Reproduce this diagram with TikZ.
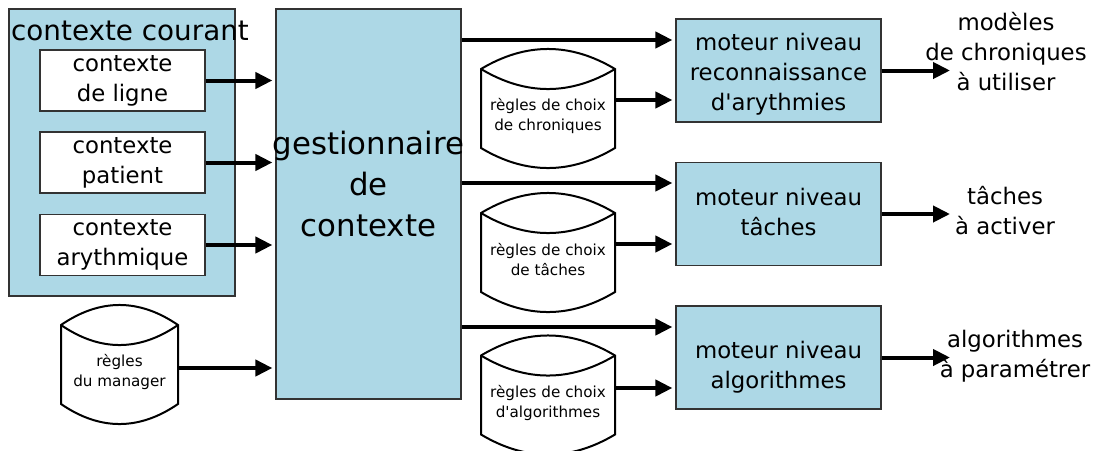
\documentclass[tikz,border=0pt]{standalone}
\usepackage{fontspec}
\setmainfont{DejaVu Sans}
\usetikzlibrary{arrows.meta}
\definecolor{bleuclair}{RGB}{173,216,230}

% cuve de regles : centre x, centre y, demi-largeur
\newcommand{\cuve}[3]{%
  \begin{scope}[shift={(#1,#2)}]
    \draw[cuve] (-#3,-47) .. controls ({-#3/3},-73.7) and ({#3/3},-73.7) .. (#3,-47)
      -- (#3,32) .. controls ({#3/3},58.7) and ({-#3/3},58.7) .. (-#3,32) -- cycle;
    \draw[line width=1pt] (-#3,-47) .. controls ({-#3/3},-20.3) and ({#3/3},-20.3) .. (#3,-47);
  \end{scope}}

\begin{document}
\begin{tikzpicture}[x=0.5pt, y=-0.5pt,
    bloc/.style={draw=black!80, fill=bleuclair, line width=0.6pt, inner sep=0pt},
    ctx/.style={draw=black!80, fill=white, line width=0.6pt, inner sep=0pt,
      minimum width=82.5pt, minimum height=30.5pt, align=center,
      font=\fontsize{11.4}{15}\selectfont},
    moteur/.style={bloc, minimum width=102.5pt, minimum height=51.5pt},
    texte/.style={align=center, font=\fontsize{11.4}{15}\selectfont},
    regle/.style={inner sep=0pt, align=center, font=\fontsize{7.6}{10}\selectfont},
    cuve/.style={draw=black, fill=white, line width=1pt},
    fleche/.style={-{Triangle[length=8.5pt,width=8pt]}, line width=2pt}]

  \useasboundingbox (0,0) rectangle (1095,450);

  % contexte courant
  \node[bloc, minimum width=113pt, minimum height=143.5pt] (courant) at (122,152.5) {};
  \node[font=\fontsize{13.9}{17}\selectfont] (titre) at (130,31) {contexte courant};
  \node[ctx] (ligne) at (122.5,80.5) {contexte\\de ligne};
  \node[ctx] (patient) at (122.5,162.5) {contexte\\patient};
  \node[ctx] (arythmie) at (122.5,245) {contexte\\arythmique};

  % gestionnaire
  \node[bloc, minimum width=92.5pt, minimum height=195pt] (gestion) at (368.5,204) {};
  \node[align=center, font=\fontsize{15.4}{20.5}\selectfont] (gestiontxt) at (368.5,184)
    {gestionnaire\\de\\contexte};

  % regles
  \cuve{119.5}{372}{58.5}
  \node[regle, minimum width=58.5pt] (manager) at (119.5,372) {règles\\du manager};
  \cuve{548}{116}{67}
  \node[regle, minimum width=67pt] (rchron) at (548,116) {règles de choix\\de chroniques};
  \cuve{548}{260}{67}
  \node[regle, minimum width=67pt] (rtach) at (548,260) {règles de choix\\de tâches};
  \cuve{548}{402.5}{67}
  \node[regle, minimum width=67pt] (ralgo) at (548,402.5) {règles de choix\\d\textquotesingle algorithmes};

  % moteurs
  \node[moteur] (reco) at (778.5,70.5) {};
  \node[texte] (recotxt) at (778.5,74.5) {moteur niveau\\reconnaissance\\d\textquotesingle arythmies};
  \node[moteur] (taches) at (778.5,214) {};
  \node[texte] (tachestxt) at (778.5,212) {moteur niveau\\tâches};
  \node[moteur] (algo) at (778.5,357.5) {};
  \node[texte] (algotxt) at (778.5,367.5) {moteur niveau\\algorithmes};

  % sorties
  \node[texte] (smod) at (1006,52) {modèles\\de chroniques\\à utiliser};
  \node[texte] (stach) at (1005,211) {tâches\\à activer};
  \node[texte] (salgo) at (1015,356) {algorithmes\\à paramétrer};
  \coordinate (fmod) at (950,70);
  \coordinate (ftach) at (950,214);
  \coordinate (falgo) at (950,358);

  % fleches
  \draw[fleche, shorten >=1.5pt] (ligne.east) -- (ligne.east -| gestion.west);
  \draw[fleche, shorten >=1.5pt] (patient.east) -- (patient.east -| gestion.west);
  \draw[fleche, shorten >=1.5pt] (arythmie.east) -- (arythmie.east -| gestion.west);
  \draw[fleche, shorten >=1.5pt] (manager.east |- 0,368) -- (gestion.west |- 0,368);

  \draw[fleche, shorten >=1.5pt] (gestion.east |- 0,40) -- (reco.west |- 0,40);
  \draw[fleche, shorten >=1.5pt] (rchron.east |- 0,100) -- (reco.west |- 0,100);
  \draw[fleche, shorten >=1.5pt] (gestion.east |- 0,183) -- (taches.west |- 0,183);
  \draw[fleche, shorten >=1.5pt] (rtach.east |- 0,244) -- (taches.west |- 0,244);
  \draw[fleche, shorten >=1.5pt] (gestion.east |- 0,327) -- (algo.west |- 0,327);
  \draw[fleche, shorten >=1.5pt] (ralgo.east |- 0,388) -- (algo.west |- 0,388);

  \draw[fleche] (reco.east) -- (reco.east -| fmod);
  \draw[fleche] (taches.east) -- (taches.east -| ftach);
  \draw[fleche] (algo.east) -- (algo.east -| falgo);
\end{tikzpicture}
\end{document}
